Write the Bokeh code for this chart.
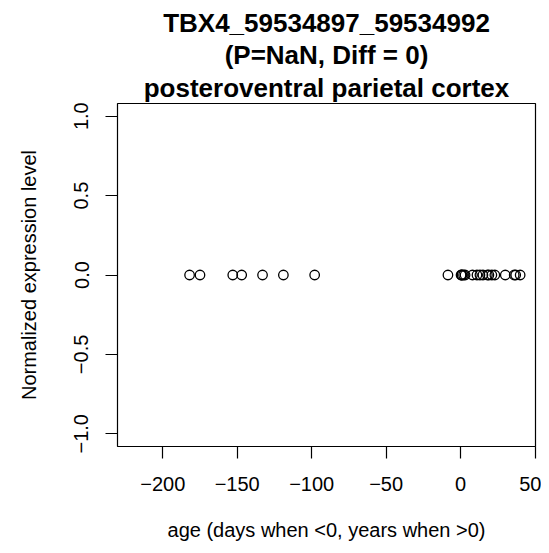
from bokeh.plotting import figure
from bokeh.models import Range1d, FixedTicker, CustomJSTickFormatter, Title
from bokeh.embed import file_html
from bokeh.resources import INLINE

# Data
age = [-182, -175, -153, -147, -133, -119, -98,
       -8.5, 0.3, 0.6, 1, 2, 3, 8, 11, 13, 15, 18, 19, 21, 23, 30, 36, 37, 40]
expr = [0.0] * len(age)

x_ticks = [-200, -150, -100, -50, 0, 50]
y_ticks = [-1.0, -0.5, 0.0, 0.5, 1.0]

title_lines = ["TBX4_59534897_59534992",
               "(P=NaN, Diff = 0)",
               "posteroventral parietal cortex"]
x_label = "age (days when <0, years when >0)"
y_label = "Normalized expression level"

FONT = "Liberation Sans"
AX_SIZE = "20px"
TITLE_SIZE = "26px"

p = figure(width=541, height=545, output_backend="svg", toolbar_location=None,
           x_range=Range1d(-230.4, 50.3), y_range=Range1d(-1.08, 1.08),
           min_border_left=117, min_border_right=6,
           min_border_top=103, min_border_bottom=99)

p.title.visible = False
p.grid.visible = False
p.background_fill_color = "white"
p.border_fill_color = "white"
p.outline_line_color = "black"
p.outline_line_width = 1.2

p.scatter(age, expr, marker="circle", size=9.5, fill_color=None,
          line_color="black", line_width=1.3)

for ax in (p.xaxis[0], p.yaxis[0]):
    ax.axis_line_color = None
    ax.major_tick_in = 0
    ax.major_tick_out = 12
    ax.major_tick_line_color = "black"
    ax.major_tick_line_width = 1.2
    ax.minor_tick_line_color = None
    ax.major_label_text_font = FONT
    ax.major_label_text_font_size = AX_SIZE
    ax.major_label_text_color = "black"
    ax.axis_label_text_font = FONT
    ax.axis_label_text_font_size = AX_SIZE
    ax.axis_label_text_font_style = "normal"
    ax.axis_label_text_color = "black"

p.xaxis[0].ticker = FixedTicker(ticks=x_ticks)
p.xaxis[0].formatter = CustomJSTickFormatter(
    code="return tick.toFixed(0).replace('-', '\\u2212');")
p.xaxis[0].axis_label = x_label
p.xaxis[0].major_label_standoff = 18
p.xaxis[0].axis_label_standoff = 25

p.yaxis[0].ticker = FixedTicker(ticks=y_ticks)
p.yaxis[0].formatter = CustomJSTickFormatter(
    code="return tick.toFixed(1).replace('-', '\\u2212');")
p.yaxis[0].major_label_orientation = "vertical"
p.yaxis[0].axis_label = y_label
p.yaxis[0].major_label_standoff = 17
p.yaxis[0].axis_label_standoff = 32

for i, line in enumerate(reversed(title_lines)):
    t = Title(text=line, align="center", text_font=FONT,
              text_font_size=TITLE_SIZE, text_font_style="bold",
              text_color="black", standoff=2 if i == 0 else 0)
    p.add_layout(t, "above")

open("out.html", "w").write(file_html(p, INLINE))
